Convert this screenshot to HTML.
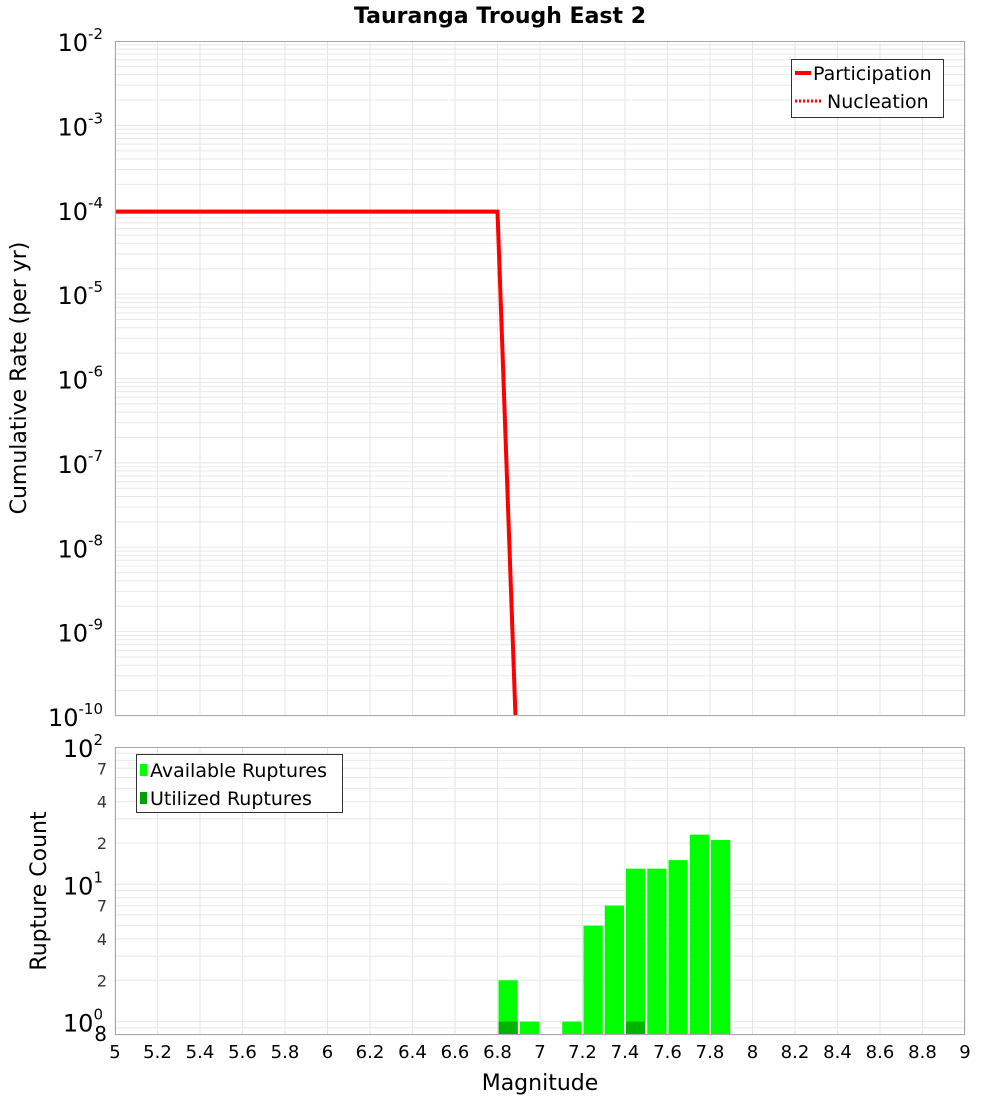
<!DOCTYPE html>
<html><head><meta charset="utf-8"><style>
body{margin:0;background:#fff;font-family:"Liberation Sans","DejaVu Sans",sans-serif}
</style></head><body>
<svg width="1000" height="1100" xmlns="http://www.w3.org/2000/svg" font-family="DejaVu Sans, Liberation Sans, sans-serif">
<defs>
<clipPath id="c1"><rect x="115" y="41" width="850" height="675"/></clipPath>
<clipPath id="c2"><rect x="115" y="747" width="850" height="288"/></clipPath>
</defs>
<text x="500" y="23" text-anchor="middle" font-size="22" font-weight="bold">Tauranga Trough East 2</text>
<g id="topPlot"></g>
<g id="botPlot"></g>
<text transform="translate(26,378) rotate(-90)" text-anchor="middle" font-size="22">Cumulative Rate (per yr)</text>
<text transform="translate(46,891) rotate(-90)" text-anchor="middle" font-size="22">Rupture Count</text>
<text x="540" y="1090" text-anchor="middle" font-size="22">Magnitude</text>
</svg>
<script>
const lineMags=[5,6.8,6.9];
const partRates=[9.5e-5,9.5e-5,8e-12];
const nuclRates=[9.5e-5,9.5e-5,8e-12];
const binCenters=[6.85,6.95,7.15,7.25,7.35,7.45,7.55,7.65,7.75,7.85];
const availCounts=[2,1,1,5,7,13,13,15,23,21];
const utilCenters=[6.85,7.45];
const utilCounts=[1,1];
const xTicks=[5,5.2,5.4,5.6,5.8,6,6.2,6.4,6.6,6.8,7,7.2,7.4,7.6,7.8,8,8.2,8.4,8.6,8.8,9];

const NS="http://www.w3.org/2000/svg";
const X=m=>115+(m-5)*212.5;
const Y1=v=>41+(-2-Math.log10(v))*84.375;
const Y2=v=>747+(2-Math.log10(v))*137.3;
function mk(p,t,a){const e=document.createElementNS(NS,t);for(const k in a)e.setAttribute(k,a[k]);p.appendChild(e);return e;}
const topG=document.getElementById('topPlot'),botG=document.getElementById('botPlot');
for(const [g,y0,y1] of [[topG,41,716],[botG,747,1035]]){
  for(let i=0;i<=20;i++){const m=5+i*0.2;const l=mk(g,'line',{x1:X(m),x2:X(m),y1:y0,y2:y1,stroke:'#e6e6e6'});
  
  }
}
for(let d=-10;d<-2;d++)for(let k=1;k<10;k++){const y=Y1(k*Math.pow(10,d));
 const l=mk(topG,'line',{x1:115,x2:965,y1:y,y2:y,stroke:'#e8e8e8'});
 
 }
for(let d=-1;d<2;d++)for(let k=1;k<10;k++){const y=Y2(k*Math.pow(10,d));if(y>1035)continue;
 const l=mk(botG,'line',{x1:115,x2:965,y1:y,y2:y,stroke:'#e8e8e8'});
 
 }
for(let d=-10;d<=-2;d++){const t=mk(topG,'text',{x:103,y:Y1(Math.pow(10,d))+10,'text-anchor':'end','font-size':24});
 
 
 t.textContent='10';const s=mk(t,'tspan',{dy:-12,'font-size':15});s.textContent=String(d);}
for(const d of [0,1,2]){const t=mk(botG,'text',{x:103,y:Y2(Math.pow(10,d))+10,'text-anchor':'end','font-size':24});
 
 
 t.textContent='10';const s=mk(t,'tspan',{dy:-12,'font-size':15});s.textContent=String(d);}
for(const v of [2,4,7,20,40,70,0.8]){const t=mk(botG,'text',{x:107,y:Y2(v)+6,'text-anchor':'end','font-size':v===0.8?20:16,fill:v===0.8?'#000':'#333'});
 
 
 t.textContent=v===0.8?'8':String(v)[0];}
for(const m of xTicks){const t=mk(botG,'text',{x:X(m),y:1058,'text-anchor':'middle','font-size':18});
 
 
 t.textContent=String(m);}
const bg=mk(botG,'g',{'clip-path':'url(#c2)'});
binCenters.forEach((c,i)=>{const y=Y2(availCounts[i]);const r=mk(bg,'rect',{x:X(c-0.05)+1,y:y,width:212.5*0.1-2,height:1035-y,fill:'#00ff00'});
 
 });
utilCenters.forEach((c,i)=>{const y=Y2(utilCounts[i]);const r=mk(bg,'rect',{x:X(c-0.05)+1,y:y,width:212.5*0.1-2,height:1035-y,fill:'#00b300'});
 
 });
const lg=mk(topG,'g',{'clip-path':'url(#c1)'});
const pp=mk(lg,'polyline',{points:lineMags.map((m,i)=>X(m)+','+Y1(partRates[i])).join(' '),fill:'none',stroke:'#ff0000','stroke-width':4});


const np=mk(lg,'polyline',{points:lineMags.map((m,i)=>X(m)+','+Y1(nuclRates[i])).join(' '),fill:'none',stroke:'#ff0000','stroke-width':3,'stroke-dasharray':'2,2'});


const f1=mk(topG,'rect',{x:115.5,y:41.5,width:849,height:674,fill:'none',stroke:'#aaa'});


const f2=mk(botG,'rect',{x:115.5,y:747.5,width:849,height:287,fill:'none',stroke:'#aaa'});


const L1=mk(topG,'g',{});


mk(L1,'rect',{x:791.5,y:59.5,width:152,height:58,fill:'#fff',stroke:'#333'});
mk(L1,'line',{x1:795,x2:811,y1:73,y2:73,stroke:'#f00','stroke-width':4});
let tx=mk(L1,'text',{x:813,y:80,'font-size':19});tx.textContent='Participation';
mk(L1,'line',{x1:795,x2:822,y1:101,y2:101,stroke:'#f00','stroke-width':3,'stroke-dasharray':'2,2'});
tx=mk(L1,'text',{x:827,y:108,'font-size':19});tx.textContent='Nucleation';
const L2=mk(botG,'g',{});


mk(L2,'rect',{x:136.5,y:754.5,width:206,height:58,fill:'#fff',stroke:'#333'});
mk(L2,'rect',{x:140,y:764,width:7,height:12,fill:'#00ff00'});
tx=mk(L2,'text',{x:150,y:777,'font-size':19});tx.textContent='Available Ruptures';
mk(L2,'rect',{x:140,y:792,width:7,height:12,fill:'#00a000'});
tx=mk(L2,'text',{x:150,y:805,'font-size':19});tx.textContent='Utilized Ruptures';
</script>
</body></html>
